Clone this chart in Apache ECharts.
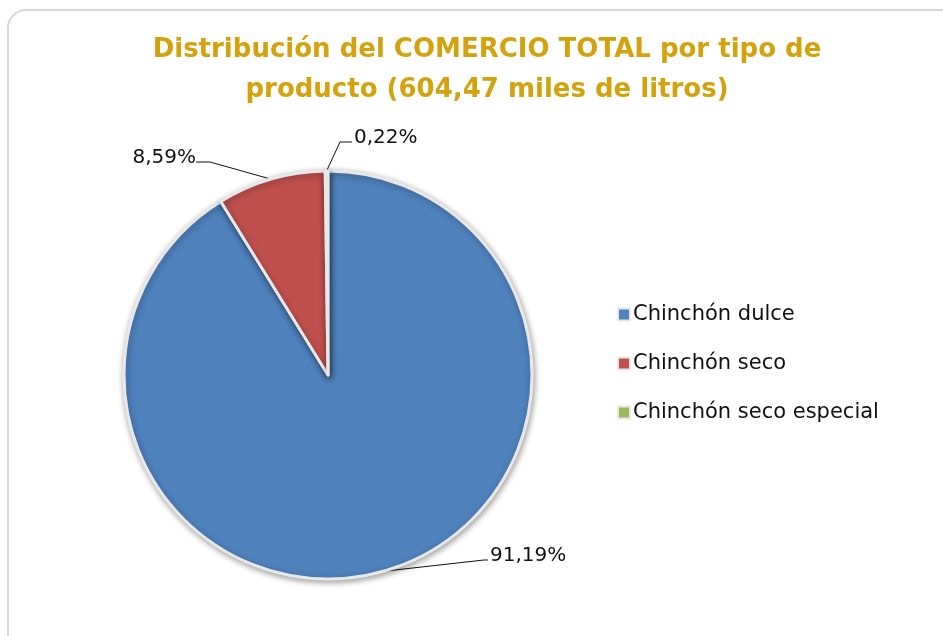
<!DOCTYPE html>
<html>
<head>
<meta charset="utf-8">
<script src="https://cdn.jsdelivr.net/npm/echarts@6/dist/echarts.min.js"></script>
<style>
  html, body { margin: 0; padding: 0; background: #fff; }
  #chart { width: 943px; height: 636px; }
</style>
</head>
<body>
<div id="chart"></div>
<script>
// data
const categories = ['Chinchón dulce', 'Chinchón seco', 'Chinchón seco especial'];
const shares = [91.19, 8.59, 0.22];
const colors = ['#4F81BD', '#C0504D', '#9BBB59'];

const fmt = v => v.toFixed(2).replace('.', ',') + '%';

const chart = echarts.init(document.getElementById('chart'), null, { renderer: 'canvas' });

// where each percentage label sits, and how far the elbow of its leader line is from it
const labelPos = [
  { x: 490, y: 556, align: 'left', elbow: -4 },
  { x: 196, y: 158, align: 'right', elbow: 14 },
  { x: 354, y: 138, align: 'left', elbow: -12 }
];

const option = {
  backgroundColor: '#fff',
  animation: false,
  graphic: [{
    type: 'rect',
    shape: { x: 8, y: 10, width: 960, height: 660, r: 18 },
    style: { fill: 'none', stroke: '#d9d9d9', lineWidth: 2 },
    z: -1
  }],
  title: {
    text: 'Distribución del COMERCIO TOTAL por tipo de\nproducto (604,47 miles de litros)',
    left: 482,
    top: 25,
    textAlign: 'center',
    textStyle: {
      color: '#D4A20C',
      fontFamily: 'DejaVu Sans',
      fontWeight: 'bold',
      fontSize: 26,
      lineHeight: 40
    }
  },
  legend: {
    orient: 'vertical',
    left: 612,
    top: 299,
    itemGap: 28,
    itemWidth: 12,
    itemHeight: 12,
    icon: 'rect',
    data: categories,
    textStyle: { color: '#111', fontSize: 21, fontFamily: 'DejaVu Sans', padding: [0, 0, 0, -2] }
  },
  series: [{
    type: 'pie',
    center: [328, 375],
    radius: 204,
    startAngle: 90,
    clockwise: true,
    data: categories.map((name, i) => ({
      name,
      value: shares[i],
      itemStyle: { color: colors[i] }
    })),
    itemStyle: {
      borderColor: '#e8e8e8',
      borderWidth: 3,
      shadowColor: 'rgba(0,0,0,0.35)',
      shadowBlur: 6,
      shadowOffsetX: 1,
      shadowOffsetY: 2
    },
    label: {
      show: true,
      formatter: p => fmt(p.value),
      color: '#111',
      fontSize: 20,
      fontFamily: 'DejaVu Sans'
    },
    labelLine: {
      show: true,
      length: 18,
      length2: 70,
      lineStyle: { color: '#111', width: 1 }
    },
    labelLayout: function (params) {
      const p = labelPos[params.dataIndex];
      const out = { x: p.x, y: p.y, align: p.align, verticalAlign: 'middle' };
      const pts = params.labelLinePoints;
      if (pts && pts.length) {
        const start = pts[0];
        const end = [p.x - (p.align === 'right' ? 0 : 2), p.y + 4];
        out.labelLinePoints = [start, [end[0] + p.elbow, end[1]], end];
      }
      return out;
    }
  }]
};

chart.setOption(option);
</script>
</body>
</html>
